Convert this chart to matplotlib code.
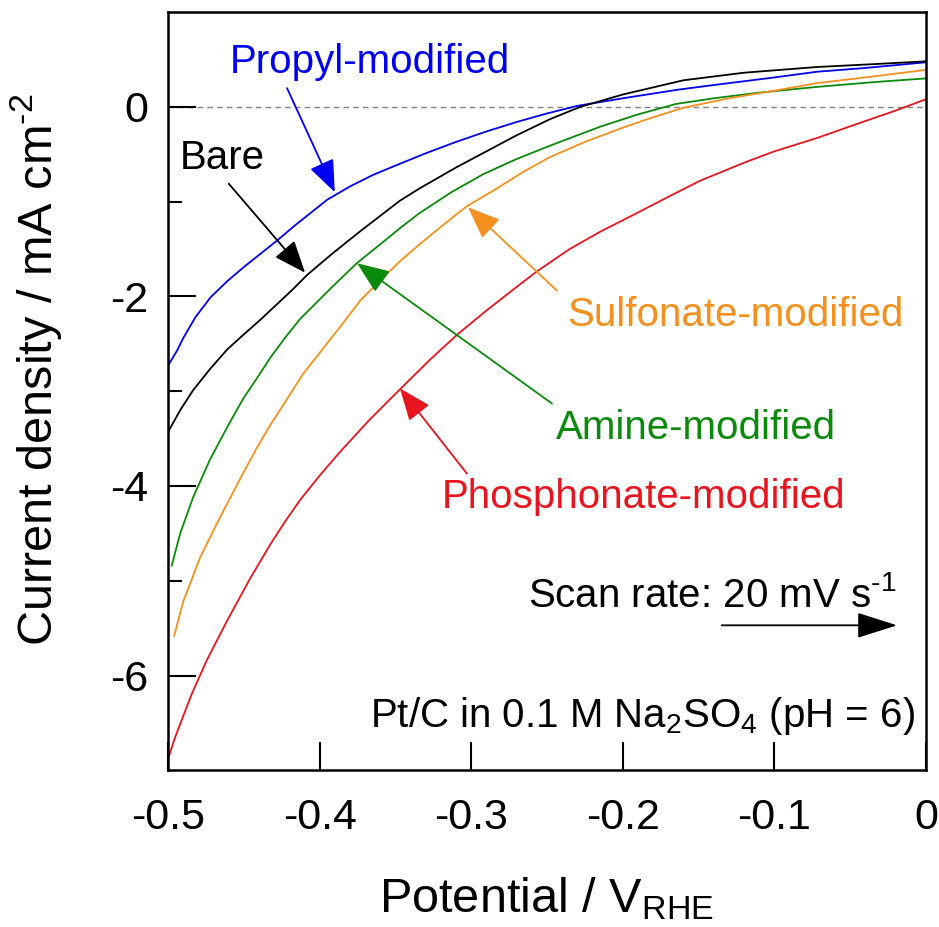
import matplotlib
matplotlib.use('Agg')
import matplotlib.pyplot as plt

plt.rcParams['font.family'] = ['Liberation Sans', 'DejaVu Sans']
plt.rcParams['mathtext.fontset'] = 'custom'
plt.rcParams['mathtext.rm'] = 'Liberation Sans'
plt.rcParams['mathtext.it'] = 'Liberation Sans'

# LSV traces: potential (V vs RHE), current density (mA cm-2)
propyl_v = [-0.5, -0.494, -0.490, -0.482, -0.472, -0.461, -0.450, -0.439, -0.428,
            -0.417, -0.406, -0.395, -0.380, -0.365, -0.350, -0.330, -0.310, -0.290,
            -0.270, -0.250, -0.230, -0.200, -0.180, -0.164, -0.140, -0.100, -0.072,
            -0.040, 0.0]
propyl_j = [-2.73, -2.57, -2.44, -2.22, -2.01, -1.84, -1.69, -1.55, -1.41,
            -1.26, -1.12, -0.98, -0.84, -0.72, -0.62, -0.49, -0.37, -0.26,
            -0.16, -0.07, 0.01, 0.09, 0.14, 0.18, 0.23, 0.31, 0.37,
            0.41, 0.47]

bare_v = [-0.5, -0.492, -0.4835, -0.472, -0.461, -0.450, -0.440, -0.428, -0.418,
          -0.408, -0.391, -0.373, -0.360, -0.347, -0.334, -0.310, -0.290, -0.270,
          -0.248, -0.228, -0.200, -0.160, -0.120, -0.072, -0.035, 0.0]
bare_j = [-3.43, -3.20, -2.99, -2.76, -2.56, -2.40, -2.26, -2.08, -1.93,
          -1.77, -1.54, -1.31, -1.15, -0.99, -0.86, -0.64, -0.47, -0.30,
          -0.13, 0.0, 0.13, 0.28, 0.36, 0.42, 0.45, 0.48]

amine_v = [-0.4976, -0.492, -0.4835, -0.4723, -0.461, -0.4505, -0.440, -0.4327,
           -0.423, -0.413, -0.393, -0.3755, -0.360, -0.347, -0.334, -0.313, -0.292,
           -0.270, -0.248, -0.215, -0.190, -0.165, -0.140, -0.110, -0.072, -0.035, 0.0]
amine_j = [-4.84, -4.50, -4.12, -3.72, -3.38, -3.08, -2.83, -2.65,
           -2.44, -2.24, -1.92, -1.65, -1.45, -1.28, -1.12, -0.90, -0.71,
           -0.55, -0.41, -0.21, -0.08, 0.03, 0.09, 0.15, 0.21, 0.26, 0.30]

sulfonate_v = [-0.496, -0.490, -0.479, -0.4657, -0.4503, -0.4415, -0.4327, -0.423,
               -0.411, -0.3953, -0.384, -0.373, -0.360, -0.347, -0.334, -0.318, -0.303,
               -0.285, -0.265, -0.248, -0.225, -0.200, -0.180, -0.160, -0.130, -0.100,
               -0.072, -0.035, 0.0]
sulfonate_j = [-5.58, -5.22, -4.76, -4.33, -3.86, -3.60, -3.36, -3.12,
               -2.82, -2.50, -2.27, -2.04, -1.83, -1.63, -1.45, -1.24, -1.05,
               -0.88, -0.68, -0.53, -0.37, -0.22, -0.11, -0.01, 0.09, 0.17,
               0.25, 0.32, 0.39]

phosphonate_v = [-0.5, -0.496, -0.492, -0.484, -0.4745, -0.461, -0.446, -0.4327, -0.423,
                 -0.413, -0.400, -0.3865, -0.367, -0.347, -0.328, -0.309, -0.290, -0.270,
                 -0.257, -0.235, -0.214, -0.193, -0.170, -0.149, -0.120, -0.100, -0.072,
                 -0.040, -0.020, 0.0]
phosphonate_j = [-6.88, -6.68, -6.51, -6.18, -5.84, -5.42, -4.98, -4.62, -4.38,
                 -4.15, -3.89, -3.64, -3.30, -2.98, -2.68, -2.40, -2.15, -1.90,
                 -1.74, -1.50, -1.31, -1.14, -0.95, -0.78, -0.59, -0.47, -0.33,
                 -0.15, -0.04, 0.08]

c_blue = '#0000f0'
c_green = '#0a8a0a'
c_orange = '#f5901e'
c_red = '#e8141e'

fig = plt.figure(figsize=(9.39, 9.27), dpi=100)
ax = fig.add_axes([0.179, 0.169, 0.807, 0.818])

ax.axhline(0, color='#808080', lw=1.0, ls=(0, (4, 3)), zorder=1)
lw = 1.3
ax.plot(propyl_v, propyl_j, color=c_blue, lw=lw)
ax.plot(bare_v, bare_j, color='black', lw=lw)
ax.plot(amine_v, amine_j, color=c_green, lw=lw)
ax.plot(sulfonate_v, sulfonate_j, color=c_orange, lw=lw)
ax.plot(phosphonate_v, phosphonate_j, color=c_red, lw=lw)

ax.set_xlim(-0.5, 0)
ax.set_ylim(-7, 1)
ax.set_xticks([-0.5, -0.4, -0.3, -0.2, -0.1, 0])
ax.set_xticklabels(['-0.5', '-0.4', '-0.3', '-0.2', '-0.1', '0'])
ax.set_yticks([-6, -4, -2, 0])
ax.set_yticklabels(['-6', '-4', '-2', '0'])
ax.set_yticks([-5, -3, -1], minor=True)
ax.tick_params(which='major', direction='in', length=20, width=1.5, labelsize=31)
ax.tick_params(which='minor', direction='in', length=10, width=1.5)
ax.tick_params(axis='x', pad=20)
ax.tick_params(axis='y', pad=14)
for s in ax.spines.values():
    s.set_linewidth(1.8)

ax.set_xlabel('Potential / V$_{\\mathrm{RHE}}$', fontsize=35, labelpad=27)
ax.set_ylabel('Current density / mA cm$^{\u2010 2}$', fontsize=35)
ax.yaxis.set_label_coords(-0.137, 0.528)

fs = 29

def arrow(tail, tip, color, hl=0.5, hw=0.2):
    ax.annotate('', xy=tip, xytext=tail,
                arrowprops=dict(arrowstyle='-|>,head_length=%g,head_width=%g' % (hl, hw),
                                color=color, lw=1.3, mutation_scale=40,
                                shrinkA=0, shrinkB=0))

ax.text(-0.367, 0.47, 'Propyl-modified', color=c_blue, fontsize=fs, ha='center', va='center')
arrow((-0.4215, 0.197), (-0.390, -0.90), c_blue)
ax.text(-0.464, -0.54, 'Bare', color='black', fontsize=fs, ha='center', va='center')
arrow((-0.460, -0.81), (-0.4096, -1.75), 'black')
ax.text(-0.126, -2.20, 'Sulfonate-modified', color=c_orange, fontsize=fs, ha='center', va='center')
arrow((-0.2434, -1.94), (-0.302, -1.06), c_orange)
ax.text(-0.152, -3.39, 'Amine-modified', color=c_green, fontsize=fs, ha='center', va='center')
arrow((-0.2467, -3.13), (-0.3753, -1.65), c_green)
ax.text(-0.186, -4.12, 'Phosphonate-modified', color=c_red, fontsize=fs, ha='center', va='center')
arrow((-0.3028, -3.87), (-0.347, -2.97), c_red)

ax.text(-0.141, -5.16, 'Scan rate: 20 mV s$^{\u2010 1}$', color='black', fontsize=fs,
        ha='center', va='center')
arrow((-0.1346, -5.47), (-0.019, -5.47), 'black', hl=0.63, hw=0.2)
ax.text(-0.007, -6.43, 'Pt/C in 0.1 M Na$_2$SO$_4$ (pH = 6)', color='black', fontsize=fs,
        ha='right', va='center')

fig.savefig('out.png', dpi=100)
